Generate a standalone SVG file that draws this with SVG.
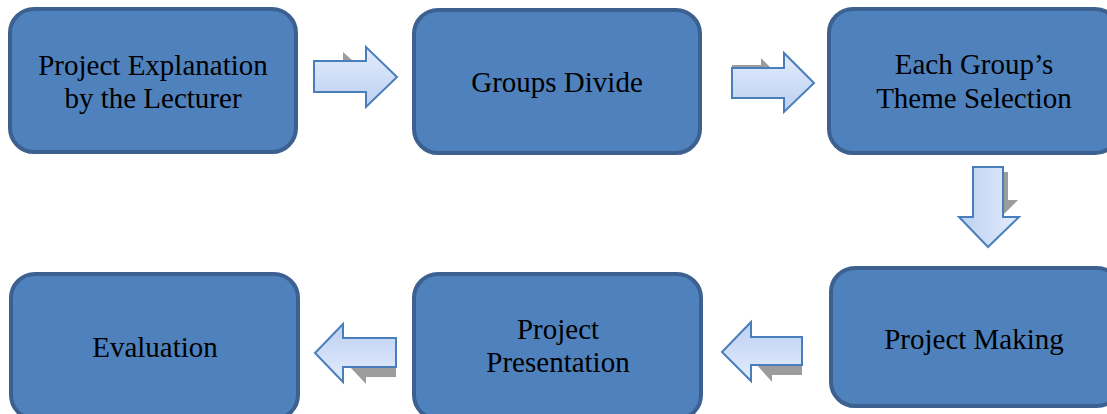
<svg xmlns="http://www.w3.org/2000/svg" width="1107" height="414" viewBox="0 0 1107 414">
<defs>
<linearGradient id="ag" x1="0" y1="0" x2="0" y2="1">
<stop offset="0" stop-color="#e3ecfc"/>
<stop offset="1" stop-color="#bcd0f3"/>
</linearGradient>
<linearGradient id="agv" x1="0" y1="0" x2="1" y2="0">
<stop offset="0" stop-color="#bcd0f3"/>
<stop offset="1" stop-color="#e3ecfc"/>
</linearGradient>
<linearGradient id="agl" x1="0" y1="1" x2="0" y2="0">
<stop offset="0" stop-color="#e3ecfc"/>
<stop offset="1" stop-color="#bcd0f3"/>
</linearGradient>
</defs>
<style>
.box{fill:#4f81bd;stroke:#3c6190;stroke-width:4}
.lbl{font-family:"Liberation Serif","Times New Roman",serif;font-size:29px;fill:#000;text-anchor:middle}
.arr{stroke:#4a7ebb;stroke-width:2;stroke-linejoin:miter}
.sh{fill:#9c9c9c}
</style>
<rect width="1107" height="414" fill="#ffffff"/>
<g id="connectors">
<polygon class="sh" points="314,60 343,60 343,52 353,61 314,61"/>
<polygon class="arr" fill="url(#ag)" points="314,61 366,61 366,47 397,77 366,107 366,92 314,92"/>
<polygon class="sh" points="732,65 761,65 761,58 771,68 732,68"/>
<polygon class="arr" fill="url(#ag)" points="732,68 784,68 784,53 814,83 784,112 784,98 732,98"/>
<polygon class="sh" points="1003,172 1008,172 1008,200 1018,200 1003,215"/>
<polygon class="arr" fill="url(#agv)" points="973,167 1003,167 1003,217 1019,217 988,247 959,217 973,217"/>
<polygon class="sh" points="802,365 802,375 772,375 772,382 757,365"/>
<polygon class="arr" fill="url(#agl)" points="802,337 751,337 751,322 722,352 751,381 751,365 802,365"/>
<polygon class="sh" points="396,367 396,377 366,377 366,384 350,367"/>
<polygon class="arr" fill="url(#agl)" points="396,338 343,338 343,324 315,353 343,382 343,367 396,367"/>
</g>
<g id="n1">
<rect class="box" x="10" y="9" width="286" height="143" rx="24"/>
<text class="lbl" x="153" y="75">Project Explanation</text>
<text class="lbl" x="153" y="108">by the Lecturer</text>
</g>
<g id="n2">
<rect class="box" x="414" y="10" width="286" height="143" rx="24"/>
<text class="lbl" x="557" y="92">Groups Divide</text>
</g>
<g id="n3">
<rect class="box" x="829" y="9" width="290" height="144" rx="24"/>
<text class="lbl" x="974" y="74">Each Group’s</text>
<text class="lbl" x="974" y="108">Theme Selection</text>
</g>
<g id="n4">
<rect class="box" x="831" y="268" width="290" height="138" rx="24"/>
<text class="lbl" x="974" y="349">Project Making</text>
</g>
<g id="n5">
<rect class="box" x="414" y="274" width="287" height="145" rx="24"/>
<text class="lbl" x="558" y="339">Project</text>
<text class="lbl" x="558" y="372">Presentation</text>
</g>
<g id="n6">
<rect class="box" x="11" y="274" width="287" height="145" rx="24"/>
<text class="lbl" x="155" y="357">Evaluation</text>
</g>
</svg>
